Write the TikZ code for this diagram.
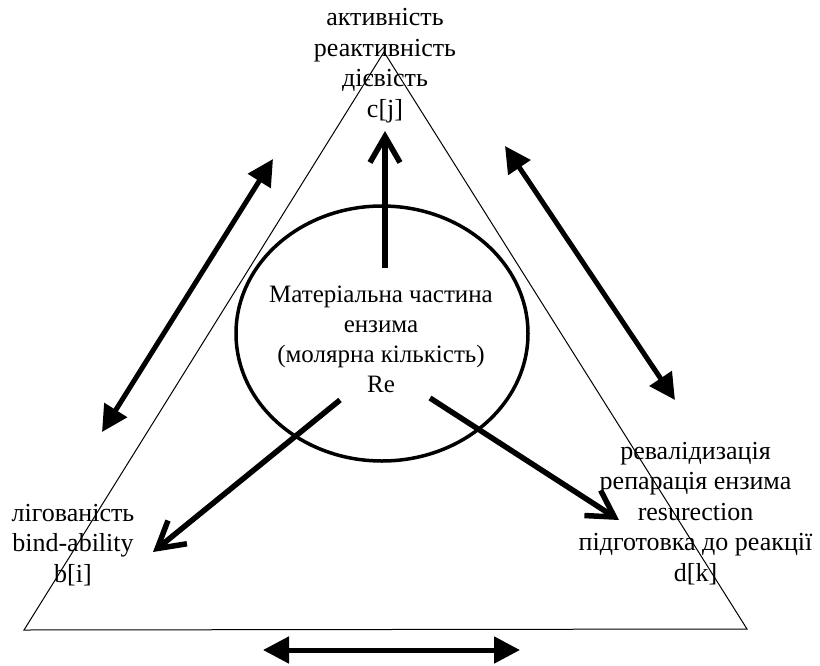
\documentclass[tikz,border=0pt]{standalone}
\usepackage{fontspec}
\setmainfont{Liberation Serif}
\usetikzlibrary{arrows.meta,shapes.geometric}
\begin{document}
\begin{tikzpicture}[x=1pt,y=-1pt,
  lbl/.style={align=center, inner sep=0pt, anchor=base, font=\fontsize{26}{30.5}\selectfont},
  midlbl/.style={align=center, inner sep=0pt, anchor=base, font=\fontsize{25}{30}\selectfont},
  edge/.style={line width=1pt, line join=miter},
  dbl/.style={line width=5pt, {Triangle[length=26pt,width=26pt]}-{Triangle[length=26pt,width=26pt]}},
  ray/.style={line width=5.5pt, -{Straight Barb[length=26pt,width=30pt]}},
  ring/.style={draw, ellipse, line width=3.5pt, minimum width=292pt, minimum height=255pt, inner sep=0pt}
]
\useasboundingbox (0,0) rectangle (820,665);
\fill[white] (0,0) rectangle (820,665);
% triangle
\coordinate (A) at (384,52);
\coordinate (B) at (24,630);
\coordinate (C) at (747,629);
\draw[edge] (A) -- (B) -- (C) -- cycle;
% central ellipse
\node[ring] (ring) at (382,333.5) {};
% labels (anchor = baseline of the last line)
\node[lbl] (top) at (385,117) {активність\\реактивність\\дієвість\\c[j]};
\node[midlbl] (mid) at (381,392) {Матеріальна частина\\ензима\\(молярна кількість)\\Re};
\node[lbl] (left) at (73,582) {лігованість\\bind-ability\\b[i]};
\node[lbl] (right) at (695.5,581) {ревалідизація\\репарація ензима\\resurection\\підготовка до реакції\\d[k]};
% arrows from the centre
\coordinate (u0) at (385,268); \coordinate (u1) at (385,131);
\coordinate (l0) at (340,400); \coordinate (l1) at (153,552);
\coordinate (r0) at (430,398); \coordinate (r1) at (619,520);
\draw[ray] (u0) -- (u1);
\draw[ray] (l0) -- (l1);
\draw[ray] (r0) -- (r1);
% double arrows
\coordinate (p0) at (273,159); \coordinate (p1) at (102,432);
\coordinate (q0) at (505,146); \coordinate (q1) at (675,400);
\coordinate (s0) at (263,650); \coordinate (s1) at (520,650);
\draw[dbl] (p0) -- (p1);
\draw[dbl] (q0) -- (q1);
\draw[dbl] (s0) -- (s1);
\end{tikzpicture}
\end{document}
